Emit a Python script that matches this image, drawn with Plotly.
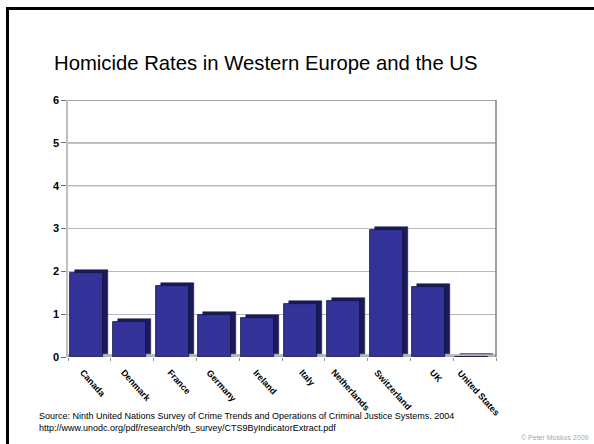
import plotly.graph_objects as go

countries = ["Canada", "Denmark", "France", "Germany", "Ireland", "Italy",
             "Netherlands", "Switzerland", "UK", "United States"]
rates = [1.95, 0.82, 1.65, 0.97, 0.91, 1.23, 1.30, 2.97, 1.63, 0]
y_ticks = [0, 1, 2, 3, 4, 5, 6]

W, H = 594, 444
L, R, T, B = 68, 98, 100, 87
pw, ph = W - L - R, H - T - B

def px(x):
    return (x - L) / pw

def py(y):
    return (H - B - y) / ph

FONT = "Arial, Liberation Sans, sans-serif"

fig = go.Figure()
# 3D depth (side/top faces)
fig.add_trace(go.Bar(x=countries, y=rates, base=0.07, width=0.77, offset=-0.336,
                     marker=dict(color="#1b1b5c", line=dict(color="#10103a", width=0.5)),
                     hoverinfo="skip", showlegend=False))
# front faces
fig.add_trace(go.Bar(x=countries, y=rates, width=0.77, offset=-0.453,
                     marker=dict(color="#333399", line=dict(color="#14143f", width=0.8)),
                     showlegend=False))

shapes = [
    # outer frame
    dict(type="rect", xref="paper", yref="paper", x0=px(7.5), x1=px(620), y0=py(470), y1=py(8.5),
         line=dict(color="black", width=3), fillcolor="rgba(0,0,0,0)"),
    # right wall edge
    dict(type="line", xref="paper", yref="paper", x0=1, x1=1, y0=0, y1=1,
         line=dict(color="#808080", width=1.5)),
    # floor
    dict(type="rect", xref="x", yref="y", x0=-0.5, x1=9.5, y0=0, y1=0.05,
         fillcolor="#c8c8c8", line=dict(color="#909090", width=0.8), layer="below"),
]
# darker upper gridlines (back wall shading)
for v in y_ticks[4:]:
    shapes.append(dict(type="line", xref="paper", yref="y", x0=0, x1=1, y0=v, y1=v,
                       line=dict(color="#858585", width=1.4), layer="below"))

annotations = [
    dict(text="Homicide Rates in Western Europe and the US", xref="paper", yref="paper",
         x=px(266), y=py(63), xanchor="center", yanchor="middle", showarrow=False,
         font=dict(family=FONT, size=20.3, color="black")),
    dict(text="Source: Ninth United Nations Survey of Crime Trends and Operations of Criminal Justice Systems. 2004",
         xref="paper", yref="paper", x=px(37), y=py(416), xanchor="left", yanchor="middle",
         showarrow=False, font=dict(family=FONT, size=9, color="black")),
    dict(text="http://www.unodc.org/pdf/research/9th_survey/CTS9ByIndicatorExtract.pdf",
         xref="paper", yref="paper", x=px(37), y=py(428), xanchor="left", yanchor="middle",
         showarrow=False, font=dict(family=FONT, size=9, color="black")),
    dict(text="© Peter Moskos 2009", xref="paper", yref="paper", x=px(591), y=py(437),
         xanchor="right", yanchor="middle", showarrow=False,
         font=dict(family=FONT, size=7, color="#a8a8a8")),
]
for c in countries:
    annotations.append(dict(text="<b>" + c + "</b>", xref="x", yref="paper", x=c, y=py(365),
                            xanchor="center", yanchor="top", textangle=48, showarrow=False,
                            xshift=4, font=dict(family=FONT, size=9, color="black")))

fig.update_layout(
    width=W, height=H, margin=dict(l=L, r=R, t=T, b=B),
    paper_bgcolor="white", plot_bgcolor="white",
    barmode="overlay", bargap=0,
    shapes=shapes, annotations=annotations,
    xaxis=dict(type="category", range=[-0.5, 9.5], showticklabels=False, showgrid=False,
               ticks="outside", ticklen=3, tickcolor="#909090", tickson="boundaries",
               showline=False, zeroline=False),
    yaxis=dict(range=[0, 6], tickvals=y_ticks, ticks="outside", ticklen=5, tickcolor="#707070",
               showgrid=True, gridcolor="#b8b8b8", gridwidth=1.2,
               showline=True, linecolor="#c0c0c0", linewidth=1.5, zeroline=False,
               tickfont=dict(family=FONT, size=11, color="black", weight="bold")),
)

fig.write_html("out.html", config={"displayModeBar": False},
               post_script="document.body.style.margin='0';document.body.style.overflow='hidden';")
